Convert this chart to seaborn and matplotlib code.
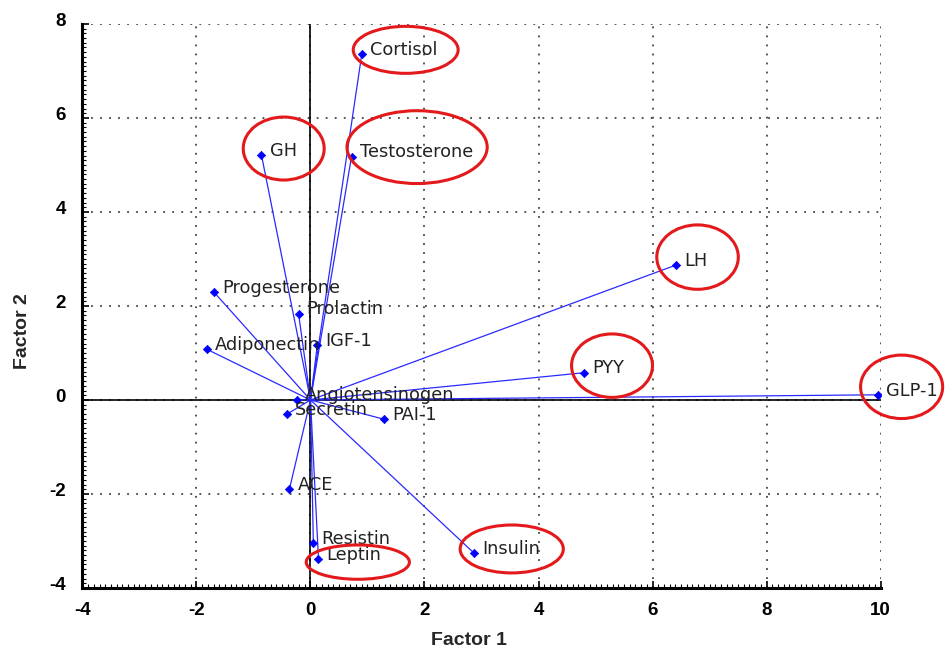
import matplotlib
matplotlib.use("Agg")
import matplotlib.pyplot as plt
from matplotlib.patches import Ellipse
from matplotlib.ticker import MultipleLocator
from matplotlib.transforms import ScaledTranslation
import pandas as pd
import seaborn as sns

# Factor loadings of each hormone / marker
variables = ["Cortisol", "GH", "Testosterone", "LH", "Progesterone", "Prolactin",
             "IGF-1", "Adiponectin", "PYY", "GLP-1", "Angiotensinogen", "Secretin",
             "PAI-1", "ACE", "Resistin", "Leptin", "Insulin"]
factor1 = [0.90, -0.86, 0.72, 6.41, -1.69, -0.21,
           0.12, -1.82, 4.80, 9.96, -0.24, -0.41,
           1.29, -0.37, 0.05, 0.14, 2.87]
factor2 = [7.36, 5.21, 5.18, 2.87, 2.29, 1.84,
           1.17, 1.08, 0.58, 0.11, 0.01, -0.30,
           -0.41, -1.90, -3.05, -3.38, -3.26]

x_ticks = [-4, -2, 0, 2, 4, 6, 8, 10]
y_ticks = [-4, -2, 0, 2, 4, 6, 8]

# Variables circled in red
highlighted = ["Cortisol", "GH", "Testosterone", "LH", "PYY", "GLP-1", "Insulin", "Leptin"]

# Ellipse layout: offset of centre from the point, width, height (data units)
ellipse_layout = {
    "Cortisol":     (0.77, 0.09, 1.84, 1.00),
    "GH":           (0.39, 0.14, 1.42, 1.34),
    "Testosterone": (1.15, 0.20, 2.46, 1.55),
    "LH":           (0.38, 0.17, 1.43, 1.37),
    "PYY":          (0.49, 0.15, 1.42, 1.35),
    "GLP-1":        (0.41, 0.17, 1.44, 1.35),
    "Insulin":      (0.66, 0.09, 1.81, 1.02),
    "Leptin":       (0.69, -0.07, 1.81, 0.73),
}

df = pd.DataFrame({"variable": variables, "Factor 1": factor1, "Factor 2": factor2})

sns.set_theme(style="white")
plt.rcParams["font.family"] = ["DejaVu Sans"]
plt.rcParams["axes.unicode_minus"] = False

fig = plt.figure(figsize=(9.47, 6.52), dpi=100)
ax = fig.add_axes([0.0871, 0.0982, 0.8427, 0.865])

ax.set_xlim(-4, 10)
ax.set_ylim(-4, 8)

# dotted grid at the major ticks
for xv in x_ticks[1:]:
    ax.axvline(xv, color="#444444", lw=1.3, ls=(0, (1, 4)), zorder=0)
for yv in y_ticks[1:]:
    ax.axhline(yv, color="#444444", lw=1.3, ls=(0, (1, 4)), zorder=0)
ax.axhline(0, color="black", lw=1.2, zorder=1)
ax.axvline(0, color="black", lw=1.2, zorder=1)

# vectors from the origin
for _, row in df.iterrows():
    ax.plot([0, row["Factor 1"]], [0, row["Factor 2"]], color="#2a2aff", lw=0.9, zorder=2)

sns.scatterplot(data=df, x="Factor 1", y="Factor 2", ax=ax, marker="D", s=18,
                color="#0000ff", edgecolor="#0000ff", linewidth=0.5, zorder=3, legend=False)

for _, row in df.iterrows():
    ax.annotate(row["variable"], (row["Factor 1"], row["Factor 2"]),
                xytext=(5.8, -0.5), textcoords="offset points",
                ha="left", va="baseline", fontsize=12.8, color="#222222",
                family="DejaVu Sans", zorder=4)

for name in highlighted:
    i = variables.index(name)
    dx, dy, w, h = ellipse_layout[name]
    ax.add_patch(Ellipse((factor1[i] + dx, factor2[i] + dy), w, h, fill=False,
                         ec="#e3191c", lw=2.2, clip_on=False, zorder=5))

ax.set_xticks(x_ticks)
ax.set_yticks(y_ticks)
ax.set_xticklabels([str(v) for v in x_ticks])
ax.set_yticklabels([str(v) for v in y_ticks])
ax.xaxis.set_minor_locator(MultipleLocator(0.1))
ax.yaxis.set_minor_locator(MultipleLocator(0.1))
ax.tick_params(axis="both", which="major", direction="in", length=5, width=1.2,
               colors="black", labelsize=13.5)
ax.tick_params(axis="both", which="minor", direction="in", length=3, width=0.8,
               colors="black")
ax.tick_params(axis="x", which="major", pad=10)
ax.tick_params(axis="y", which="major", pad=12)
ax.tick_params(axis="both", which="both", top=False, right=False, bottom=True, left=True)
lift = ScaledTranslation(0, 4 / 100, fig.dpi_scale_trans)
for lbl in ax.get_xticklabels() + ax.get_yticklabels():
    lbl.set_fontweight("bold")
    lbl.set_family(["Liberation Sans", "DejaVu Sans"])
for lbl in ax.get_yticklabels():
    lbl.set_transform(lbl.get_transform() + lift)

for side in ["top", "right"]:
    ax.spines[side].set_visible(False)
for side in ["left", "bottom"]:
    ax.spines[side].set_color("black")
    ax.spines[side].set_linewidth(2.2)

ax.set_xlabel("Factor 1", fontsize=14, fontweight="bold", family=["Liberation Sans", "DejaVu Sans"])
ax.set_ylabel("Factor 2", fontsize=14, fontweight="bold", family=["Liberation Sans", "DejaVu Sans"])
ax.xaxis.set_label_coords(0.484, -0.078)
ax.yaxis.set_label_coords(-0.0645, 0.455)

fig.savefig("out.png", dpi=100)
